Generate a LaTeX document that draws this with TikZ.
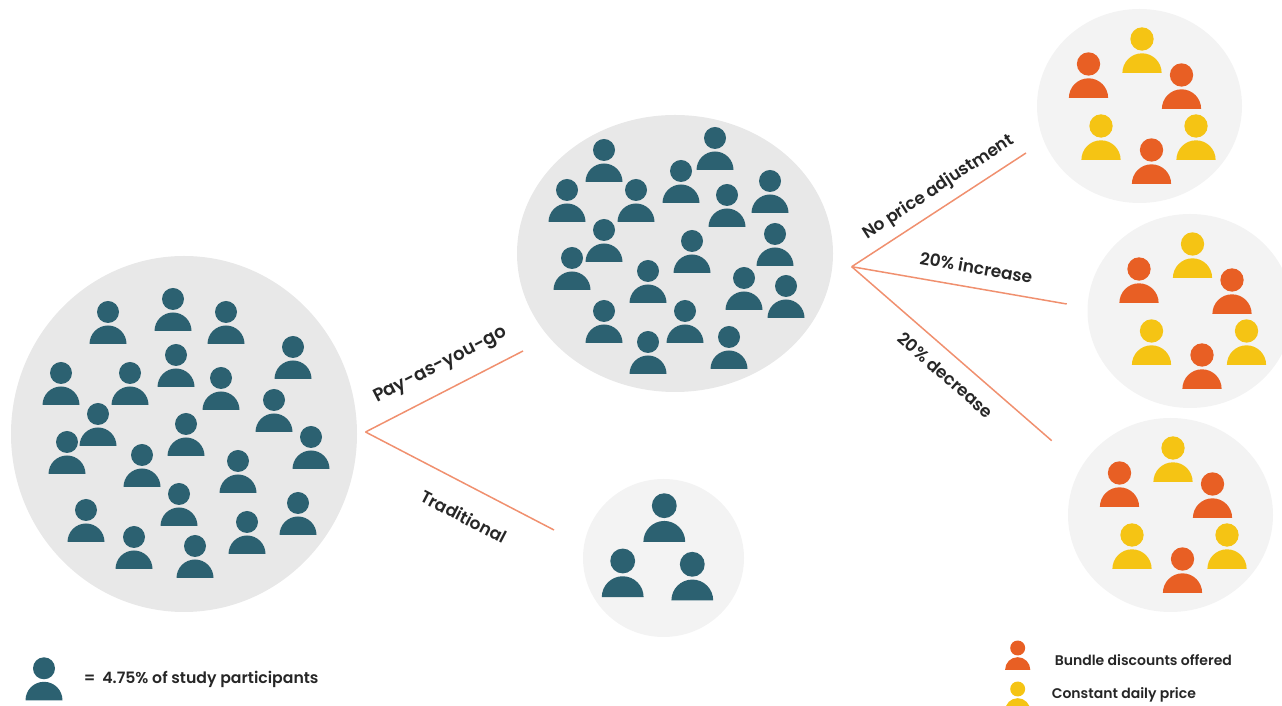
\documentclass[tikz,border=0pt]{standalone}
\usepackage{fontspec}
\setmainfont{Poppins}[BoldFont={Poppins SemiBold}]
\usetikzlibrary{shapes.geometric, positioning}

\definecolor{staff}{HTML}{2C6171}
\definecolor{bundle}{HTML}{E85F24}
\definecolor{constant}{HTML}{F5C414}
\definecolor{branch}{HTML}{F0906F}
\definecolor{darkcrowd}{HTML}{E8E8E8}
\definecolor{lightcrowd}{HTML}{F3F3F3}
\definecolor{ink}{HTML}{262626}

\tikzset{
    person/.pic={
        \fill[#1] (0,0) circle[radius=11];
        \fill[#1] (-18.5,-32) arc[start angle=180, end angle=0, radius=18.5] -- cycle;
    },
    crowd/.style={ellipse, fill=darkcrowd, inner sep=0pt},
    subcrowd/.style={ellipse, fill=lightcrowd, inner sep=0pt, minimum width=205pt, minimum height=194pt},
    label/.style={font=\bfseries\fontsize{17}{20}\selectfont, text=ink, inner sep=2pt},
    legend/.style={font=\bfseries\fontsize{14}{17}\selectfont, text=ink, inner sep=0pt, anchor=west}
}

\begin{document}
\begin{tikzpicture}[x=1pt, y=1pt, line width=1.5pt]
    \clip (0,0) rectangle (1282,706);

    \node[crowd, minimum width=346pt, minimum height=356pt]		(all)		at (184,272)		{};
    \node[crowd, minimum width=316pt, minimum height=277pt]		(payg)		at (675,452.5)		{};
    \node[crowd, fill=lightcrowd, minimum width=161pt, minimum height=158pt]	(trad)	at (663.5,148)	{};
    \node[subcrowd]		(none)		at (1139.5,600)		{};
    \node[subcrowd]		(up)		at (1190,395)		{};
    \node[subcrowd]		(down)		at (1170.5,191)		{};

    % participants, x/y measured from the top left corner
    \foreach \x/\y in {108/312,173/299,226/312,293/347,61/373,130/373,176/355,221/378,274/400,98/414,67/442,311/437,186/424,142/455,238/461,179/494,86/510,298/503,247/522,134/537,195/546}
        \pic at (\x,706-\y) {person=staff};
    \foreach \x/\y in {604/150,715/138,681/171,567/190,636/190,727/195,770/181,604/230,775/234,692/241,572/258,648/271,744/278,786/286,604/311,685/311,729/337,648/342}
        \pic at (\x,706-\y) {person=staff};

    \foreach \x/\y in {664.3/505.7,622.7/561,692.3/564.3}
        \pic[scale=1.13] at (\x,706-\y) {person=staff};

    \foreach \cx/\cy in {1139.5/106,1190/311,1170.5/515} {
        \foreach \x/\y in {2.5/-67,-38.5/20,56.5/20}
            \pic[scale=1.06] at (\cx+\x,706-\cy-\y) {person=constant};
        \foreach \x/\y in {-51/-42,42/-31,12/44}
            \pic[scale=1.06] at (\cx+\x,706-\cy-\y) {person=bundle};
    }

    \coordinate (fork1) at (365.5,274);
    \coordinate (fork2) at (851.7,439.3);
    \coordinate (endpayg) at (523,355);
    \coordinate (endtrad) at (554,176);
    \coordinate (endnone) at (1026,553);
    \coordinate (endup) at (1066.7,402);
    \coordinate (enddown) at (1051.7,265.3);

    \path[branch]	(fork1)	edge	node[label, font=\bfseries\fontsize{18.2}{20}\selectfont, sloped, above, pos=.47, xshift=14pt, yshift=13pt] (lpayg) {Pay-as-you-go}	(endpayg);
    \path[branch]	(fork1)	edge	node[label, sloped, below, pos=.594, yshift=-20pt] (ltrad) {Traditional}	(endtrad);
    \path[branch]	(fork2)	edge	node[label, sloped, above, pos=.5, xshift=12pt, yshift=7.3pt] (lnone) {No price adjustment}	(endnone);
    \path[branch]	(fork2)	edge	node[label, sloped, above, pos=.57, xshift=-1.5pt, yshift=11pt] (lup) {20\% increase}	(endup);
    \path[branch]	(fork2)	edge	node[label, sloped, below, pos=.536, yshift=-11pt] (ldown) {20\% decrease}	(enddown);

    \pic at (44,706-668.3) {person=staff};
    \pic[scale=.68] at (1017.7,706-648) {person=bundle};
    \pic[scale=.68] at (1017.7,706-689) {person=constant};

    \node[legend, font=\bfseries\fontsize{15.7}{18}\selectfont]	(legall)		at (83,26.5)		{=\hspace{7pt}4.75\% of study participants};
    \node[legend]	(legbundle)		at (1054,46)		{Bundle discounts offered};
    \node[legend]	(legconstant)	at (1051,11)		{Constant daily price};
\end{tikzpicture}
\end{document}
